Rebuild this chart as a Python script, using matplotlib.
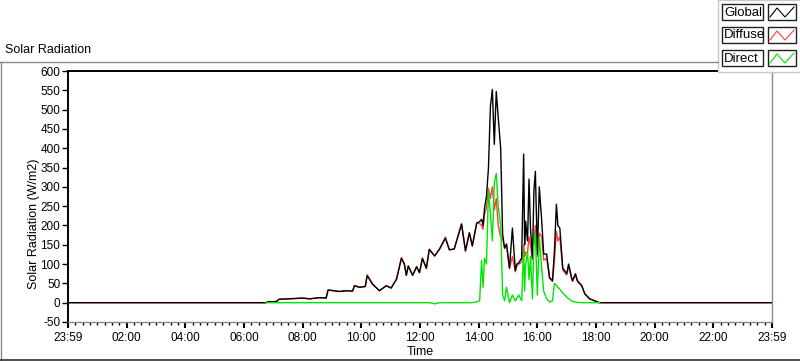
import matplotlib.pyplot as plt
from matplotlib.patches import Rectangle
import numpy as np

plt.rcParams['font.family'] = ['Liberation Sans', 'DejaVu Sans']
plt.rcParams['axes.unicode_minus'] = False

# readings taken off the chart (time of day, W/m2)
times = ["00:00", "06:45", "06:48", "07:06", "07:12", "07:30", "07:47", "08:00", "08:14", "08:34",
         "08:48", "08:52", "09:15", "09:30", "09:42", "09:46", "09:56", "10:08", "10:12", "10:23",
         "10:37", "10:51", "11:01", "11:12", "11:22", "11:28", "11:32", "11:36", "11:45", "11:53",
         "11:59", "12:05", "12:13", "12:19", "12:30", "12:40", "12:52", "13:00", "13:10", "13:25",
         "13:33", "13:41", "13:47", "13:56", "14:02", "14:06", "14:09", "14:12", "14:16", "14:20",
         "14:24", "14:28", "14:32", "14:36", "14:40", "14:45", "14:49", "14:53", "14:57", "15:03",
         "15:09", "15:15", "15:18", "15:22", "15:28", "15:32", "15:34", "15:36", "15:40", "15:43",
         "15:46", "15:50", "15:53", "15:56", "16:00", "16:04", "16:09", "16:13", "16:19", "16:25",
         "16:31", "16:35", "16:39", "16:42", "16:46", "16:52", "17:00", "17:04", "17:10", "17:12",
         "17:18", "17:22", "17:31", "17:37", "17:47", "18:01", "18:07", "24:00"]

global_rad = [0, 0, 2, 3, 9, 10, 11, 12, 10, 13,
              12, 33, 29, 31, 30, 44, 40, 42, 70, 48,
              31, 44, 38, 61, 115, 100, 71, 95, 71, 93,
              78, 115, 89, 138, 121, 139, 167, 137, 139, 204,
              134, 181, 147, 206, 210, 216, 200, 245, 276, 348,
              508, 552, 410, 547, 480, 400, 178, 142, 152, 90,
              193, 83, 100, 103, 116, 385, 150, 211, 160, 320,
              193, 116, 290, 340, 126, 300, 211, 126, 126, 65,
              57, 134, 255, 200, 193, 90, 75, 100, 65, 57,
              75, 57, 44, 23, 10, 3, 0, 0]

diffuse_rad = [0, 0, 2, 3, 9, 10, 11, 12, 10, 13,
               12, 33, 29, 31, 30, 44, 40, 42, 72, 48,
               31, 44, 38, 61, 117, 100, 71, 95, 71, 93,
               78, 115, 89, 138, 121, 139, 170, 137, 139, 204,
               134, 181, 147, 206, 205, 200, 190, 230, 245, 296,
               270, 300, 240, 270, 200, 170, 165, 140, 150, 88,
               120, 80, 95, 100, 105, 150, 120, 130, 130, 170,
               150, 110, 160, 200, 120, 180, 170, 110, 115, 63,
               55, 110, 185, 160, 170, 85, 72, 95, 63, 55,
               73, 55, 43, 23, 10, 3, 0, 0]

direct_rad = [np.nan, 0, 0, 0, 0, 0, 0, 0, 0, 0,
              0, 0, 0, 0, 0, 0, 0, 0, 0, 0,
              0, 0, 0, 0, 0, 0, 0, 0, 0, 0,
              0, 0, 0, 0, -3, 0, 0, 0, 0, 0,
              0, 0, 0, 2, 5, 110, 40, 115, 100, 290,
              230, 160, 310, 335, 250, 200, 20, 5, 40, 0,
              20, 5, 10, 20, 5, 140, 30, 100, 130, 60,
              120, 10, 150, 180, 20, 170, 90, 30, 10, 2,
              5, 50, 45, 40, 35, 25, 15, 10, 5, 3,
              2, 1, 0, 0, 0, 0, 0, np.nan]

hour_ticks = list(range(0, 25, 2))
hour_labels = ["23:59", "02:00", "04:00", "06:00", "08:00", "10:00", "12:00",
               "14:00", "16:00", "18:00", "20:00", "22:00", "23:59"]
y_ticks = list(range(-50, 601, 50))

series_names = ["Global", "Diffuse", "Direct"]
series_colors = ["black", "#ff3c3c", "#00e600"]


def to_hours(s):
    h, m = s.split(":")
    return int(h) + int(m) / 60


hours = [to_hours(t) for t in times]

W, H = 800, 361
fig = plt.figure(figsize=(W / 100, H / 100), dpi=100)
ax = fig.add_axes([68 / W, 1 - 322 / H, (772 - 68) / W, (322 - 71) / H])

ax.plot(hours, diffuse_rad, color=series_colors[1], lw=1.0)
ax.plot(hours, global_rad, color=series_colors[0], lw=1.0)
ax.plot(hours, direct_rad, color=series_colors[2], lw=1.0)

ax.set_xlim(0, 24)
ax.set_ylim(-50, 600)
ax.set_xticks(hour_ticks)
ax.set_xticklabels(hour_labels)
ax.set_xticks(np.arange(0, 24.01, 0.25), minor=True)
ax.set_yticks(y_ticks)
ax.tick_params(axis='both', labelsize=8.5, direction='out', colors='black')
ax.tick_params(axis='x', which='major', length=4.5, width=1.5, pad=3)
ax.tick_params(axis='x', which='minor', length=2.5, width=1)
ax.tick_params(axis='y', length=4, width=1, pad=1.5)

for side in ['top', 'left']:
    ax.spines[side].set_color('black')
    ax.spines[side].set_linewidth(1.4)
for side in ['right', 'bottom']:
    ax.spines[side].set_color('#8a8a8a')
    ax.spines[side].set_linewidth(1.0)

ax.set_xlabel("Time", fontsize=9, labelpad=1)
ax.set_ylabel("Solar Radiation (W/m2)", fontsize=9)
ax.yaxis.set_label_coords(-0.04, 0.39)

# panel frame, title and the legend, drawn in pixel coordinates
ov = fig.add_axes([0, 0, 1, 1], facecolor='none')
ov.set_xlim(0, W)
ov.set_ylim(H, 0)
ov.axis('off')
ov.plot([0, 718], [61.5, 61.5], color='#8a8a8a', lw=1)
ov.plot([0.5, 0.5], [61.5, 360], color='#8a8a8a', lw=1)
ov.plot([0, 800], [359.5, 359.5], color='#303030', lw=1.2)
ov.text(5, 50, "Solar Radiation", fontsize=9, va='center', ha='left')

ov.add_patch(Rectangle((717.5, 0), 83, 72, facecolor='white', edgecolor='#c8c8c8', lw=1))
for i, (name, col) in enumerate(zip(series_names, series_colors)):
    top = 4 + 23 * i
    ov.add_patch(Rectangle((722, top), 41, 16, facecolor='white', edgecolor='#202020', lw=1))
    ov.add_patch(Rectangle((768, top), 28, 16, facecolor='white', edgecolor='#202020', lw=1))
    ov.text(724, top + 8.5, name, fontsize=9.5, va='center', ha='left')
    ov.plot([770, 777, 785, 794], [top + 13, top + 4, top + 13, top + 3], color=col, lw=0.8)

fig.savefig("out.png", dpi=100)
